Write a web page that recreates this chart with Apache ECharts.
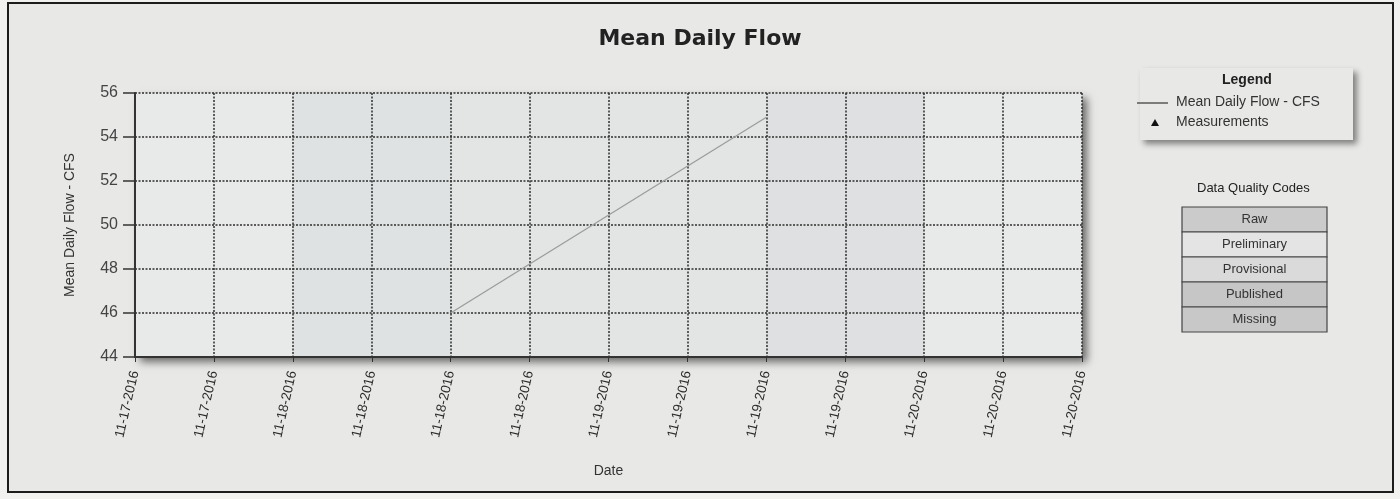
<!DOCTYPE html>
<html>
<head>
<meta charset="utf-8">
<title>Mean Daily Flow</title>
<script src="https://cdn.jsdelivr.net/npm/echarts@6/dist/echarts.min.js"></script>
<style>
  html, body { margin: 0; padding: 0; background: #f1f1ef; }
  #chart { width: 1400px; height: 499px; }
</style>
</head>
<body>
<div id="chart"></div>
<script>
// tick labels along the date axis (one every 6 hours, from 11-17 12:00)
const tickLabels = [
  '11-17-2016', '11-17-2016',
  '11-18-2016', '11-18-2016', '11-18-2016', '11-18-2016',
  '11-19-2016', '11-19-2016', '11-19-2016', '11-19-2016',
  '11-20-2016', '11-20-2016', '11-20-2016'
]
// hours since 11-17-2016 00:00
const flowHours = [36, 60]
const flowValues = [46.0, 54.9]
// shaded background bands (hours)
const bands = [[12, 24], [24, 36], [36, 60], [60, 72], [72, 84]]
const qualityCodes = ['Raw', 'Preliminary', 'Provisional', 'Published', 'Missing']

const bandColors = ['#e8e9e9', '#dfe2e3', '#e3e5e5', '#dee0e1', '#e8e9e9']
const codeColors = ['#cbcbcb', '#e4e4e4', '#dadada', '#c6c6c6', '#c8c8c8']

const chart = echarts.init(document.getElementById('chart'))

// 表格 + 图例用 graphic 画
const graphics = [
  {
    type: 'rect', z: -20,
    shape: { x: 8, y: 3, width: 1385, height: 489 },
    style: { fill: '#e8e9e7', stroke: '#1c1c1c', lineWidth: 2 }
  },
  {
    // plot background with drop shadow
    type: 'rect', z: -10,
    shape: { x: 135, y: 93, width: 947, height: 264 },
    style: { fill: '#e6e8e8', shadowBlur: 8, shadowOffsetX: 5, shadowOffsetY: 5, shadowColor: 'rgba(0,0,0,0.55)' }
  },
  {
    type: 'rect', z: -10,
    shape: { x: 1140, y: 68, width: 213, height: 72 },
    style: { fill: '#e8e9e7', shadowBlur: 6, shadowOffsetX: 4, shadowOffsetY: 4, shadowColor: 'rgba(0,0,0,0.45)' }
  },
  {
    type: 'text', left: 1222, top: 73,
    style: { text: 'Legend', font: 'bold 14px "Liberation Sans", Arial', fill: '#222' }
  },
  {
    type: 'line',
    shape: { x1: 1137, y1: 103, x2: 1168, y2: 103 },
    style: { stroke: '#333', lineWidth: 1.2 }
  },
  {
    type: 'text', left: 1176, top: 95,
    style: { text: 'Mean Daily Flow - CFS', font: '14px "Liberation Sans", Arial', fill: '#333' }
  },
  {
    type: 'polygon',
    shape: { points: [[1155, 119], [1159, 126], [1151, 126]] },
    style: { fill: '#111' }
  },
  {
    type: 'text', left: 1176, top: 115,
    style: { text: 'Measurements', font: '14px "Liberation Sans", Arial', fill: '#333' }
  },
  {
    type: 'text', left: 1197, top: 182,
    style: { text: 'Data Quality Codes', font: '13px "Liberation Sans", Arial', fill: '#222' }
  }
]

qualityCodes.forEach((code, i) => {
  graphics.push({
    type: 'rect',
    shape: { x: 1182, y: 207 + 25 * i, width: 145, height: 25 },
    style: { fill: codeColors[i], stroke: '#444', lineWidth: 1.2 }
  })
  graphics.push({
    type: 'text',
    x: 1254.5, y: 219.5 + 25 * i,
    style: { text: code, font: '13px "Liberation Sans", Arial', fill: '#333', align: 'center', verticalAlign: 'middle' }
  })
})

const gridLine = { color: '#2e2e2e', width: 1.5, type: [2, 1.5] }

const options = {
  backgroundColor: 'transparent',
  animation: false,
  title: {
    text: 'Mean Daily Flow',
    left: 'center',
    top: 23,
    textStyle: { fontFamily: 'DejaVu Sans', fontSize: 22, fontWeight: 'bold', color: '#222' }
  },
  graphic: graphics,
  grid: { left: 135, right: 318, top: 93, bottom: 142 },
  xAxis: {
    type: 'value',
    min: 12,
    max: 84,
    interval: 6,
    name: 'Date',
    nameLocation: 'middle',
    nameGap: 107,
    nameTextStyle: { fontFamily: 'Liberation Sans', fontSize: 14, color: '#333' },
    axisLine: { lineStyle: { color: '#333', width: 2 } },
    axisTick: { length: 5, lineStyle: { color: '#333' } },
    splitLine: { show: true, lineStyle: gridLine },
    axisLabel: {
      rotate: 77,
      margin: 14,
      fontFamily: 'Liberation Sans',
      fontSize: 13.5,
      color: '#2a2a2a',
      showMinLabel: true,
      showMaxLabel: true,
      formatter: v => tickLabels[Math.round((v - 12) / 6)]
    }
  },
  yAxis: {
    type: 'value',
    min: 44,
    max: 56,
    interval: 2,
    name: 'Mean Daily Flow - CFS',
    nameLocation: 'middle',
    nameGap: 58,
    nameTextStyle: { fontFamily: 'Liberation Sans', fontSize: 14, color: '#333' },
    axisLine: { show: true, lineStyle: { color: '#333', width: 2 } },
    axisTick: { show: true, length: 12, lineStyle: { color: '#333', width: 1.5 } },
    splitLine: { show: true, lineStyle: gridLine },
    axisLabel: { fontFamily: 'Liberation Sans', fontSize: 16, color: '#444', margin: 17 }
  },
  series: [
    {
      name: 'Mean Daily Flow - CFS',
      type: 'line',
      symbol: 'none',
      z: 3,
      lineStyle: { color: '#9c9c9c', width: 1.3 },
      data: flowHours.map((h, i) => [h, flowValues[i]]),
      markArea: {
        silent: true,
        z: -5,
        data: bands.map((b, i) => [
          { xAxis: b[0], itemStyle: { color: bandColors[i] } },
          { xAxis: b[1] }
        ])
      }
    }
  ]
}

chart.setOption(options)
</script>
</body>
</html>
